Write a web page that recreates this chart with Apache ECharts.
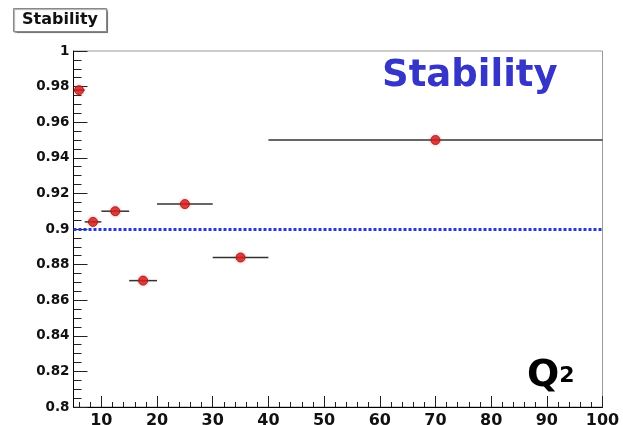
<!DOCTYPE html>
<html>
<head>
<meta charset="utf-8">
<script src="https://cdn.jsdelivr.net/npm/echarts@6/dist/echarts.min.js"></script>
<style>
html,body{margin:0;padding:0;background:#fff;}
#chart{width:623px;height:425px;}
</style>
</head>
<body>
<div id="chart"></div>
<script>
// Data
var xCenter = [6, 8.5, 12.5, 17.5, 25, 35, 70];
var xLow    = [5, 7, 10, 15, 20, 30, 40];
var xHigh   = [7, 10, 15, 20, 30, 40, 100];
var yValues = [0.978, 0.904, 0.910, 0.871, 0.914, 0.884, 0.950];
var refLine = 0.9;

var xMajorTicks = [10, 20, 30, 40, 50, 60, 70, 80, 90, 100];
var yMajorTicks = [0.8, 0.82, 0.84, 0.86, 0.88, 0.9, 0.92, 0.94, 0.96, 0.98, 1];

// Minor tick positions (styling)
var xMinorTicks = [];
for (var i = 6; i < 100; i += 2) { if (i % 10 !== 0) xMinorTicks.push(i); }
var yMinorTicks = [];
for (var k = 0; k < yMajorTicks.length - 1; k++) {
  for (var m = 1; m < 4; m++) {
    yMinorTicks.push(+(yMajorTicks[k] + m * 0.005).toFixed(3));
  }
}

var points = xCenter.map(function (x, i) { return [x, yValues[i]]; });
var bars = xCenter.map(function (x, i) { return [xLow[i], xHigh[i], yValues[i]]; });

var FONT = 'DejaVu Sans';

var chart = echarts.init(document.getElementById('chart'), null, {renderer: 'canvas'});
chart.setOption({
  animation: false,
  backgroundColor: '#ffffff',
  title: [
    {
      text: 'Stability', left: 13, top: 8,
      borderColor: '#888', borderWidth: 1, padding: [4, 9, 4, 9],
      backgroundColor: '#fff',
      shadowColor: 'rgba(0,0,0,0.35)', shadowOffsetX: 1, shadowOffsetY: 1, shadowBlur: 1,
      textStyle: {fontFamily: FONT, fontWeight: 'bold', fontSize: 16, color: '#111'}
    },
    {
      text: 'Stability', left: 377, top: 53,
      textStyle: {fontFamily: FONT, fontWeight: 'bold', fontSize: 37, color: '#3535c8'}
    },
    {
      text: '{q|Q}{s|2}', left: 522, top: 352,
      textStyle: {
        rich: {
          q: {fontFamily: FONT, fontWeight: 'bold', fontSize: 38, color: '#000'},
          s: {fontFamily: FONT, fontWeight: 'bold', fontSize: 22, color: '#000'}
        }
      }
    }
  ],
  grid: {
    left: 73.5, right: 20.5, top: 51, bottom: 18,
    outerBoundsMode: 'none', containLabel: false,
    show: true, borderColor: '#999', borderWidth: 1, backgroundColor: '#fff'
  },
  xAxis: [
    {
      type: 'value', min: 5, max: 100, position: 'bottom',
      axisLine: {show: true, lineStyle: {color: '#000', width: 1}},
      axisTick: {show: true, inside: true, length: 11, customValues: xMajorTicks, lineStyle: {color: '#222'}},
      axisLabel: {show: true, customValues: xMajorTicks, margin: 6, hideOverlap: false,
        fontFamily: FONT, fontWeight: 'bold', fontSize: 16, color: '#111'},
      splitLine: {show: false}
    },
    {
      type: 'value', min: 5, max: 100, position: 'bottom',
      axisLine: {show: false},
      axisTick: {show: true, inside: true, length: 5, customValues: xMinorTicks, lineStyle: {color: '#222'}},
      axisLabel: {show: false},
      splitLine: {show: false}
    }
  ],
  yAxis: [
    {
      type: 'value', min: 0.8, max: 1, position: 'left',
      axisLine: {show: true, lineStyle: {color: '#000', width: 1}},
      axisTick: {show: true, inside: true, length: 14, customValues: yMajorTicks, lineStyle: {color: '#222'}},
      axisLabel: {show: true, customValues: yMajorTicks, margin: 4, hideOverlap: false,
        fontFamily: FONT, fontWeight: 'bold', fontSize: 13.5, color: '#111',
        formatter: function (v) { return String(+v.toFixed(2)); }},
      splitLine: {show: false}
    },
    {
      type: 'value', min: 0.8, max: 1, position: 'left',
      axisLine: {show: false},
      axisTick: {show: true, inside: true, length: 8, customValues: yMinorTicks, lineStyle: {color: '#222'}},
      axisLabel: {show: false},
      splitLine: {show: false}
    }
  ],
  series: [
    {
      type: 'custom',
      xAxisIndex: 0, yAxisIndex: 0,
      data: bars,
      z: 3,
      renderItem: function (params, api) {
        var p1 = api.coord([api.value(0), api.value(2)]);
        var p2 = api.coord([api.value(1), api.value(2)]);
        return {
          type: 'line',
          shape: {x1: p1[0], y1: p1[1], x2: p2[0], y2: p2[1]},
          style: {stroke: '#333', lineWidth: 1.5}
        };
      }
    },
    {
      type: 'scatter',
      xAxisIndex: 0, yAxisIndex: 0,
      data: points,
      symbol: 'circle', symbolSize: 9,
      z: 5,
      itemStyle: {color: '#d41c1c', borderColor: '#a01010', borderWidth: 1,
        shadowColor: 'rgba(230,60,60,0.5)', shadowBlur: 3},
      markLine: {
        silent: true, symbol: 'none',
        label: {show: false},
        lineStyle: {color: '#2a3ad0', width: 3, type: [3, 2]},
        data: [{yAxis: refLine}]
      }
    }
  ]
});
</script>
</body>
</html>
